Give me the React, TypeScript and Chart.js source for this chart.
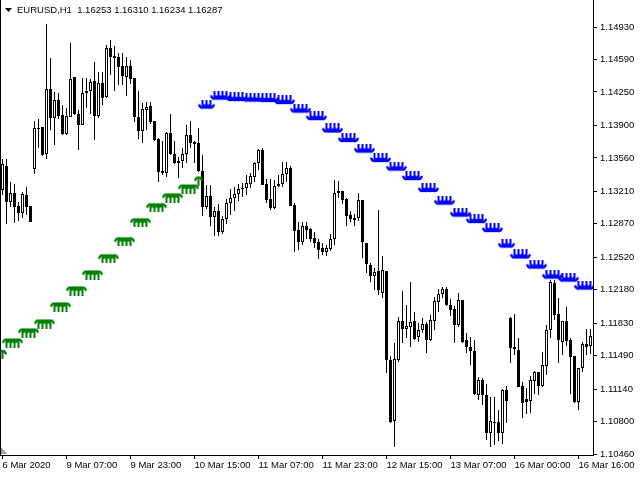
import { useEffect, useRef } from 'react';
import { Chart, registerables } from 'chart.js';

Chart.register(...registerables);

const symbolHeader = 'EURUSD,H1  1.16253 1.16310 1.16234 1.16287';
const timeLabels = ['6 Mar 2020', '9 Mar 07:00', '9 Mar 23:00', '10 Mar 15:00', '11 Mar 07:00', '11 Mar 23:00', '12 Mar 15:00', '13 Mar 07:00', '16 Mar 00:00', '16 Mar 16:00'];
const timeLabelBars = [0, 16, 32, 48, 64, 80, 96, 112, 128, 144];
const priceTicks = [1.1493, 1.1459, 1.1425, 1.139, 1.1356, 1.1321, 1.1287, 1.1252, 1.1218, 1.1183, 1.1149, 1.1114, 1.108, 1.1046];

const opens = [
  1.13224, 1.13475, 1.13098, 1.13192, 1.13056, 1.12983, 1.13171, 1.13056,
  1.13444, 1.13863, 1.13884, 1.13601, 1.14281, 1.13978, 1.14166, 1.14009,
  1.1381, 1.13988, 1.14407, 1.1402, 1.13905, 1.1424, 1.1426, 1.14365,
  1.13999, 1.14344, 1.14198, 1.14711, 1.14627, 1.14617, 1.14522, 1.14407,
  1.14522, 1.14397, 1.13988, 1.13842, 1.14062, 1.14104, 1.13947, 1.13758,
  1.13423, 1.13402, 1.13821, 1.13601, 1.13507, 1.13528, 1.13601, 1.138,
  1.13727, 1.13716, 1.13423, 1.13046, 1.13161, 1.12941, 1.13004, 1.12784,
  1.1292, 1.13087, 1.1314, 1.13182, 1.13234, 1.13245, 1.13287, 1.1336,
  1.13507, 1.13643, 1.13287, 1.13129, 1.13035, 1.13266, 1.13287, 1.13392,
  1.13454, 1.13067, 1.12805, 1.1268, 1.12847, 1.12816, 1.12722, 1.1268,
  1.12617, 1.12575, 1.12606, 1.12711, 1.13192, 1.13213, 1.13129, 1.12962,
  1.12931, 1.12931, 1.13119, 1.12669, 1.12439, 1.12324, 1.12376, 1.12146,
  1.12376, 1.11445, 1.10807, 1.11445, 1.11853, 1.11769, 1.1179, 1.11853,
  1.11686, 1.11759, 1.11821, 1.11654, 1.11853, 1.12052, 1.12135, 1.12188,
  1.1202, 1.11978, 1.11811, 1.12073, 1.11654, 1.11581, 1.11539, 1.11078,
  1.11235, 1.11078, 1.10681, 1.10786, 1.10796, 1.10681, 1.11131, 1.11884,
  1.11581, 1.11549, 1.11172, 1.11036, 1.11015, 1.11225, 1.11319, 1.11172,
  1.11382, 1.11759, 1.12251, 1.11926, 1.11633, 1.11853, 1.11654, 1.11486,
  1.11005, 1.11361, 1.11612, 1.11591,
];

const highs = [
  1.13549, 1.13549, 1.13308, 1.13287, 1.13098, 1.13203, 1.13255, 1.13056,
  1.13947, 1.13968, 1.13884, 1.14962, 1.14606, 1.1425, 1.1424, 1.14114,
  1.14083, 1.14763, 1.14407, 1.14062, 1.14397, 1.14397, 1.14386, 1.14564,
  1.14459, 1.14459, 1.14742, 1.14794, 1.14732, 1.14659, 1.14659, 1.14617,
  1.14585, 1.14397, 1.1426, 1.14135, 1.14145, 1.14145, 1.13947, 1.13768,
  1.13737, 1.13831, 1.1402, 1.13737, 1.1357, 1.13664, 1.13905, 1.13947,
  1.13737, 1.13873, 1.13591, 1.13276, 1.13276, 1.13046, 1.13077, 1.12952,
  1.13129, 1.13234, 1.13255, 1.13287, 1.13297, 1.13381, 1.13402, 1.13517,
  1.13653, 1.13664, 1.13339, 1.13339, 1.13329, 1.13381, 1.13517, 1.13517,
  1.13475, 1.13087, 1.12889, 1.12889, 1.12889, 1.12826, 1.12784, 1.12711,
  1.12669, 1.12648, 1.12763, 1.13329, 1.13318, 1.13213, 1.1314, 1.13004,
  1.12973, 1.13192, 1.13119, 1.12669, 1.1246, 1.12408, 1.13015, 1.12533,
  1.12376, 1.11486, 1.11623, 1.11895, 1.12167, 1.1202, 1.12261, 1.11947,
  1.11832, 1.11884, 1.11842, 1.11916, 1.12104, 1.12188, 1.12209, 1.12209,
  1.12083, 1.1201, 1.12146, 1.12073, 1.11727, 1.11686, 1.11654, 1.11267,
  1.11256, 1.11193, 1.11057, 1.11057, 1.10921, 1.11141, 1.11172, 1.11895,
  1.11926, 1.11675, 1.11214, 1.11152, 1.11277, 1.1133, 1.11319, 1.11528,
  1.11811, 1.12282, 1.12282, 1.12094, 1.11853, 1.11999, 1.11675, 1.11486,
  1.11361, 1.11633, 1.11769, 1.11769,
];

const lows = [
  1.13171, 1.12868, 1.13046, 1.12879, 1.129, 1.12931, 1.12962, 1.12889,
  1.13392, 1.13664, 1.1358, 1.13549, 1.13852, 1.13695, 1.13968, 1.138,
  1.138, 1.13988, 1.14009, 1.13643, 1.13905, 1.14083, 1.1402, 1.13748,
  1.13978, 1.14114, 1.14187, 1.14428, 1.1426, 1.14323, 1.14323, 1.14208,
  1.14334, 1.13936, 1.13758, 1.13716, 1.13852, 1.13915, 1.13737, 1.13308,
  1.13381, 1.1336, 1.13591, 1.13496, 1.1335, 1.13454, 1.13507, 1.13664,
  1.13507, 1.13413, 1.12952, 1.13025, 1.12847, 1.12742, 1.12742, 1.12763,
  1.12868, 1.12962, 1.13004, 1.13108, 1.1315, 1.13171, 1.13245, 1.13308,
  1.13433, 1.13276, 1.13087, 1.13015, 1.13025, 1.13255, 1.13255, 1.13308,
  1.13056, 1.12575, 1.12596, 1.12648, 1.12711, 1.1268, 1.12617, 1.12502,
  1.12543, 1.12533, 1.12585, 1.12648, 1.1314, 1.13077, 1.12847, 1.12889,
  1.12847, 1.129, 1.12512, 1.12355, 1.12261, 1.12177, 1.12125, 1.12094,
  1.11309, 1.10786, 1.10534, 1.11424, 1.11623, 1.11675, 1.11581, 1.11654,
  1.11633, 1.11727, 1.11518, 1.11644, 1.11759, 1.11947, 1.12094, 1.1201,
  1.11905, 1.11623, 1.1179, 1.11623, 1.11518, 1.11392, 1.11078, 1.11026,
  1.10973, 1.10607, 1.10534, 1.10555, 1.10597, 1.10565, 1.10786, 1.11413,
  1.11497, 1.11162, 1.10838, 1.1088, 1.1089, 1.11089, 1.11078, 1.11162,
  1.11288, 1.11675, 1.11863, 1.11413, 1.11497, 1.11591, 1.11089, 1.10994,
  1.10921, 1.11319, 1.11497, 1.11507,
];

const closes = [
  1.13496, 1.13098, 1.13192, 1.13046, 1.12983, 1.13182, 1.13046, 1.12889,
  1.13873, 1.13873, 1.13591, 1.14281, 1.13978, 1.14166, 1.13999, 1.1381,
  1.13999, 1.14386, 1.1402, 1.13905, 1.1424, 1.1426, 1.14355, 1.13999,
  1.14344, 1.14187, 1.14711, 1.14617, 1.14606, 1.14512, 1.14417, 1.14522,
  1.14386, 1.13988, 1.13842, 1.14072, 1.14093, 1.13936, 1.13748, 1.13413,
  1.13402, 1.13821, 1.13601, 1.13507, 1.13528, 1.13601, 1.138, 1.13716,
  1.13706, 1.13423, 1.13046, 1.13161, 1.12941, 1.13004, 1.12784, 1.1292,
  1.13087, 1.1314, 1.13182, 1.13234, 1.13245, 1.13297, 1.13371, 1.13507,
  1.13643, 1.13276, 1.13119, 1.13035, 1.13266, 1.13287, 1.13392, 1.13454,
  1.13056, 1.12795, 1.1268, 1.12847, 1.12805, 1.12711, 1.12669, 1.12596,
  1.12575, 1.12617, 1.12711, 1.13192, 1.13213, 1.13119, 1.12952, 1.1292,
  1.1291, 1.13119, 1.1268, 1.1245, 1.12324, 1.12366, 1.12177, 1.12387,
  1.11445, 1.10796, 1.11455, 1.11853, 1.11769, 1.118, 1.11842, 1.11665,
  1.11759, 1.11821, 1.11654, 1.11863, 1.12062, 1.12135, 1.12188, 1.1202,
  1.11968, 1.11811, 1.12073, 1.11633, 1.11581, 1.11539, 1.11089, 1.11235,
  1.11078, 1.10681, 1.10807, 1.10796, 1.10681, 1.11131, 1.11015, 1.1157,
  1.1156, 1.11162, 1.10994, 1.11005, 1.11235, 1.11319, 1.11172, 1.11392,
  1.11759, 1.12261, 1.11916, 1.11654, 1.11853, 1.11644, 1.11476, 1.11005,
  1.11361, 1.11612, 1.11581, 1.11696,
];

// Up-arrow (green) indicator values, one per bar, starting at bar upArrowFirstBar
const upArrowFirstBar = 0;
const upArrows = [
  1.11507,
  1.11627, 1.11627, 1.11627, 1.11627,
  1.11732, 1.11732, 1.11732, 1.11732,
  1.11826, 1.11826, 1.11826, 1.11826,
  1.12004, 1.12004, 1.12004, 1.12004,
  1.12172, 1.12172, 1.12172, 1.12172,
  1.12339, 1.12339, 1.12339, 1.12339,
  1.12507, 1.12507, 1.12507, 1.12507,
  1.12685, 1.12685, 1.12685, 1.12685,
  1.12884, 1.12884, 1.12884, 1.12884,
  1.13041, 1.13041, 1.13041, 1.13041,
  1.13145, 1.13145, 1.13145, 1.13145,
  1.13239, 1.13239, 1.13239, 1.13239,
  1.13323,
];

// Down-arrow (blue) indicator values, one per bar, starting at bar downArrowFirstBar
const downArrowFirstBar = 50;
const downArrows = [
  1.14119, 1.14119, 1.14119,
  1.14213, 1.14213, 1.14213, 1.14213,
  1.14197, 1.14197, 1.14197, 1.14197,
  1.14192, 1.14192, 1.14192, 1.14192,
  1.14187, 1.14187, 1.14187, 1.14187,
  1.14166, 1.14166, 1.14166, 1.14166,
  1.14077, 1.14077, 1.14077, 1.14077,
  1.13998, 1.13998, 1.13998, 1.13998,
  1.13868, 1.13868, 1.13868, 1.13868,
  1.13768, 1.13768, 1.13768, 1.13768,
  1.13658, 1.13658, 1.13658, 1.13658,
  1.13559, 1.13559, 1.13559, 1.13559,
  1.1347, 1.1347, 1.1347, 1.1347,
  1.1337, 1.1337, 1.1337, 1.1337,
  1.13245, 1.13245, 1.13245, 1.13245,
  1.13114, 1.13114, 1.13114, 1.13114,
  1.12988, 1.12988, 1.12988, 1.12988,
  1.1292, 1.1292, 1.1292, 1.1292,
  1.12826, 1.12826, 1.12826, 1.12826,
  1.12664, 1.12664, 1.12664,
  1.12549, 1.12549, 1.12549, 1.12549,
  1.12444, 1.12444, 1.12444, 1.12444,
  1.12339, 1.12339, 1.12339, 1.12339,
  1.12308, 1.12308, 1.12308, 1.12308,
  1.12224, 1.12224, 1.12224, 1.12224,
];

function makeArrow(color: string, up: boolean): HTMLCanvasElement {
  const c = document.createElement('canvas');
  c.width = 9;
  c.height = 10;
  const g = c.getContext('2d')!;
  g.fillStyle = color;
  g.strokeStyle = color;
  g.lineWidth = 2.4;
  g.beginPath();
  if (up) {
    g.arc(4.5, 5.2, 3.3, Math.PI, 0);
    g.stroke();
    g.fillRect(3.5, 2.5, 2, 7.5);
  } else {
    g.arc(4.5, 4.8, 3.3, 0, Math.PI);
    g.stroke();
    g.fillRect(3.5, 0, 2, 7.5);
  }
  return c;
}

const FONT = '"Liberation Sans", Arial, sans-serif';

export default function App() {
  const ref = useRef<HTMLCanvasElement>(null);

  useEffect(() => {
    if (!ref.current) return;
    const wicks = opens.map((_, i) => ({ x: i, y: [lows[i], highs[i]] }));
    const bodies = opens.map((o, i) => ({ x: i, y: [o, closes[i]] }));
    const bodyColors = opens.map((o, i) => (closes[i] >= o ? '#ffffff' : '#000000'));
    const upPts = upArrows.map((v, k) => ({ x: upArrowFirstBar + k, y: v }));
    const downPts = downArrows.map((v, k) => ({ x: downArrowFirstBar + k, y: v }));

    const framePlugin = {
      id: 'frame',
      afterDraw(chart: any) {
        const { ctx, chartArea } = chart;
        ctx.save();
        ctx.strokeStyle = '#000';
        ctx.lineWidth = 1;
        ctx.beginPath();
        ctx.moveTo(chartArea.left + 0.5, chartArea.top);
        ctx.lineTo(chartArea.left + 0.5, chartArea.bottom);
        ctx.stroke();
        // header
        ctx.fillStyle = '#000';
        ctx.beginPath();
        ctx.moveTo(5, 8);
        ctx.lineTo(12, 8);
        ctx.lineTo(8.5, 12);
        ctx.closePath();
        ctx.fill();
        ctx.font = '9.5px ' + FONT;
        ctx.textBaseline = 'middle';
        ctx.textAlign = 'left';
        ctx.fillText(symbolHeader, 17, 10);
        // shift marker
        ctx.fillStyle = '#a0a0a0';
        ctx.beginPath();
        ctx.moveTo(1, 447);
        ctx.lineTo(1, 454);
        ctx.lineTo(7, 454);
        ctx.closePath();
        ctx.fill();
        ctx.restore();
      },
    };

    const chart = new Chart(ref.current, {
      type: 'bar',
      data: {
        datasets: [
          {
            type: 'scatter',
            data: upPts,
            pointStyle: makeArrow('#008000', true) as any,
            pointRadius: 5,
            showLine: false,
            order: 0,
          } as any,
          {
            type: 'scatter',
            data: downPts,
            pointStyle: makeArrow('#0000ff', false) as any,
            pointRadius: 5,
            showLine: false,
            order: 0,
          } as any,
          {
            type: 'bar',
            data: bodies,
            backgroundColor: bodyColors,
            borderColor: '#000',
            borderWidth: 1,
            borderSkipped: false,
            barThickness: 3,
            grouped: false,
            inflateAmount: 0,
            order: 1,
          } as any,
          {
            type: 'bar',
            data: wicks,
            backgroundColor: '#000',
            borderWidth: 0,
            barThickness: 1,
            grouped: false,
            inflateAmount: 0,
            order: 2,
          } as any,
        ],
      },
      options: {
        animation: false,
        responsive: false,
        devicePixelRatio: 1,
        layout: { padding: 0, autoPadding: false },
        plugins: { legend: { display: false }, tooltip: { enabled: false } },
        scales: {
          x: {
            type: 'linear',
            offset: false,
            min: -0.625,
            max: 147.625,
            afterBuildTicks: (s: any) => {
              s.ticks = timeLabelBars.map((v) => ({ value: v }));
            },
            afterFit: (s: any) => {
              s.height = 25;
              s.paddingLeft = 0;
              s.paddingRight = 0;
            },
            ticks: {
              callback: (v: any) => {
                const k = timeLabelBars.indexOf(Number(v));
                return k >= 0 ? timeLabels[k] : '';
              },
              align: 'start',
              maxRotation: 0,
              minRotation: 0,
              autoSkip: false,
              color: '#000',
              padding: 1,
              font: { family: FONT, size: 9.5 },
            },
            grid: { drawOnChartArea: false, tickLength: 4, color: '#000', offset: false },
            border: { color: '#000' },
          },
          y: {
            type: 'linear',
            position: 'right',
            min: 1.1045,
            max: 1.15213,
            afterBuildTicks: (s: any) => {
              s.ticks = priceTicks.map((v) => ({ value: v }));
            },
            afterFit: (s: any) => {
              s.width = 47;
              s.paddingTop = 0;
              s.paddingBottom = 0;
            },
            ticks: {
              callback: (v: any) => Number(v).toFixed(5),
              autoSkip: false,
              color: '#000',
              padding: 3,
              font: { family: FONT, size: 9.5 },
            },
            grid: { drawOnChartArea: false, tickLength: 4, color: '#000' },
            border: { color: '#000' },
          },
        },
      } as any,
      plugins: [framePlugin],
    });
    return () => chart.destroy();
  }, []);

  return (
    <div style={{ position: 'fixed', left: 0, top: 0, width: 640, height: 480, background: '#fff' }}>
      <canvas ref={ref} width={640} height={480} style={{ display: 'block', width: 640, height: 480 }} />
    </div>
  );
}
